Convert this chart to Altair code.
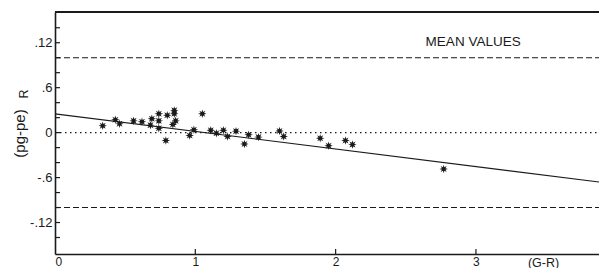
import altair as alt
import pandas as pd

# Data
gr = [0.34, 0.43, 0.46, 0.56, 0.62, 0.68, 0.69, 0.74, 0.74, 0.74, 0.79, 0.80,
      0.85, 0.85, 0.86, 0.84, 1.05, 0.96, 0.99, 1.11, 1.15, 1.20, 1.23, 1.29,
      1.35, 1.38, 1.45, 1.60, 1.63, 1.89, 1.95, 2.07, 2.12, 2.77]
dpe = [0.0091, 0.0171, 0.0117, 0.0157, 0.0144, 0.0100, 0.0184, 0.0251, 0.0157,
       0.0057, -0.0105, 0.0231, 0.0297, 0.0251, 0.0157, 0.0108, 0.0251, -0.0039,
       0.0037, 0.0031, -0.0009, 0.0031, -0.0053, 0.0020, -0.0152, -0.0029,
       -0.0060, 0.0021, -0.0052, -0.0076, -0.0176, -0.0105, -0.0160, -0.0485]

fit_x = [0.0, 3.877]
fit_y = [0.0251, -0.0659]

mean_levels = [0.10, -0.10]
zero_level = [0.0]

y_tick_vals = [-0.14, -0.12, -0.10, -0.08, -0.06, -0.04, -0.02, 0.0,
               0.02, 0.04, 0.06, 0.08, 0.10, 0.12, 0.14]
y_label_vals = [-0.12, -0.06, 0.0, 0.06, 0.12]
x_tick_vals = [1, 2, 3]
x_label_vals = [0, 1, 2, 3]

note_x = [2.98]
note_y = [0.121]
note_text = ["MEAN VALUES"]

W, H = 544, 242
XDOM = [0, 3.877]
YDOM = [-0.162, 0.161]
FONT = "Liberation Sans"
INK = "#1a1a1a"

star = ("M1,0L0.416,0.172L0.707,0.707L0.172,0.416L0,1L-0.172,0.416L-0.707,0.707"
        "L-0.416,0.172L-1,0L-0.416,-0.172L-0.707,-0.707L-0.172,-0.416L0,-1"
        "L0.172,-0.416L0.707,-0.707L0.416,-0.172Z")

xs = alt.Scale(domain=XDOM, nice=False, zero=False)
ys = alt.Scale(domain=YDOM, nice=False, zero=False)

pts_df = pd.DataFrame({"gr": gr, "dpe": dpe})
fit_df = pd.DataFrame({"gr": fit_x, "dpe": fit_y})
mean_df = pd.DataFrame({"lvl": mean_levels})
zero_df = pd.DataFrame({"lvl": zero_level})
yt_df = pd.DataFrame({"v": y_tick_vals})
xt_df = pd.DataFrame({"v": x_tick_vals})
note_df = pd.DataFrame({"x": note_x, "y": note_y, "t": note_text})
sub_df = pd.DataFrame({"t": ["R"]})

label_expr = ("datum.value > 0.1 ? '.12' : datum.value > 0.03 ? '.6' : "
              "datum.value > -0.03 ? '0' : datum.value > -0.1 ? '-.6' : '-.12'")

x_enc = alt.X("gr:Q", scale=xs, axis=alt.Axis(
    values=x_label_vals, format="d", ticks=False, grid=False,
    domainColor=INK, domainWidth=1.6, labelColor=INK, labelFont=FONT,
    labelFontSize=12, labelPadding=2, labelBaseline="top",
    title="(G-R)", titleFont=FONT,
    titleFontSize=12.5, titleFontWeight="normal", titleColor=INK,
    titleX=488, titleY=2, titleBaseline="top", titleAlign="center"))
y_enc = alt.Y("dpe:Q", scale=ys, axis=alt.Axis(
    values=y_label_vals, labelExpr=label_expr, ticks=False, grid=False,
    domainColor=INK, domainWidth=1.6, labelColor=INK, labelFont=FONT,
    labelFontSize=13, labelPadding=3, title="(pg-pe)", titleFont=FONT,
    titleFontSize=15, titleFontWeight="normal", titleColor=INK,
    titleX=-36, titleY=121, titleAngle=270, titleAlign="center",
    titleBaseline="middle"))

points = alt.Chart(pts_df).mark_point(
    shape=star, filled=True, color=INK, size=72, opacity=1
).encode(x=x_enc, y=y_enc)

fit = alt.Chart(fit_df).mark_line(color=INK, strokeWidth=1.2).encode(
    x=alt.X("gr:Q", scale=xs), y=alt.Y("dpe:Q", scale=ys))

dashed = alt.Chart(mean_df).mark_rule(
    color=INK, strokeWidth=1.1, strokeDash=[6, 3]
).encode(y=alt.Y("lvl:Q", scale=ys), x=alt.value(0), x2=alt.value(W))

dotted = alt.Chart(zero_df).mark_rule(
    color=INK, strokeWidth=1.3, strokeDash=[1.5, 3.5]
).encode(y=alt.Y("lvl:Q", scale=ys), x=alt.value(0), x2=alt.value(W))

yticks = alt.Chart(yt_df).mark_rule(color=INK, strokeWidth=1.2).encode(
    y=alt.Y("v:Q", scale=ys), x=alt.value(0), x2=alt.value(5))

xticks = alt.Chart(xt_df).mark_rule(color=INK, strokeWidth=1.2).encode(
    x=alt.X("v:Q", scale=xs), y=alt.value(H), y2=alt.value(H - 5))

top = alt.Chart(zero_df).mark_rule(color=INK, strokeWidth=1.8).encode(
    y=alt.value(0), x=alt.value(0), x2=alt.value(W))

note = alt.Chart(note_df).mark_text(
    font=FONT, fontSize=13.5, color=INK, align="center", baseline="middle"
).encode(x=alt.X("x:Q", scale=xs), y=alt.Y("y:Q", scale=ys), text="t:N")

sub = alt.Chart(sub_df).mark_text(
    font=FONT, fontSize=12.5, color=INK, angle=270, align="center",
    baseline="middle"
).encode(x=alt.value(-31), y=alt.value(82), text="t:N")

chart = alt.layer(
    dashed, dotted, fit, points, yticks, xticks, top, note, sub
).properties(
    width=W, height=H,
    padding={"left": 47, "top": 4, "right": 0, "bottom": 14},
    autosize=alt.AutoSizeParams(type="none"),
).configure_view(stroke=None).configure(background="white")

chart.save("out.html", embed_options={"renderer": "svg", "actions": False})
